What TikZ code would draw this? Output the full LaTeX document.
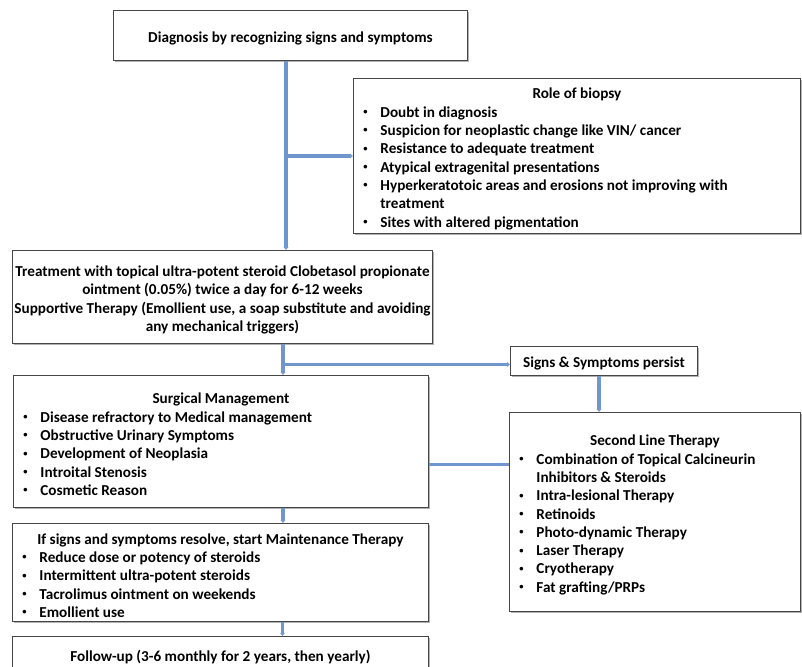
\documentclass[tikz,border=0pt]{standalone}
\usepackage{fontspec}
\setmainfont{Carlito}
\usetikzlibrary{arrows.meta,shadows,calc}
\definecolor{linkblue}{RGB}{112,150,206}
\definecolor{boxline}{RGB}{70,70,70}
\newcommand{\smallbullet}{\raisebox{2.6pt}{\fontsize{8.5}{8.5}\selectfont•}}
\newcommand{\bitem}[1]{\par\hangindent=18pt\hangafter=1\noindent\hbox to 18pt{\hspace{1pt}\smallbullet\hfil}#1}
\newcommand{\dn}[1]{\raisebox{-3pt}[\height][\depth]{#1}}
\tikzset{
  box/.style={draw=boxline, line width=0.9pt, fill=white, inner sep=0pt, anchor=north west,
    font=\fontsize{15.2}{18.3}\selectfont\bfseries,
    drop shadow={shadow xshift=1.2pt, shadow yshift=-1.5pt, opacity=0.3, fill=black}},
  conn/.style={draw=linkblue, line width=3.4pt},
  arr/.style={conn, -{Latex[length=3pt,width=5.5pt]}}
}
\begin{document}
\begin{tikzpicture}[x=1pt,y=-1pt]
\useasboundingbox (0,0) rectangle (802,666);
\clip (0,0) rectangle (802,666);
\fill[white] (0,0) rectangle (802,666);

\node[box, minimum width=354pt, minimum height=50pt] (diag) at (113,10)
  {\dn{Diagnosis by recognizing signs and symptoms}};

\node[box, minimum width=447pt, minimum height=155pt] (biop) at (353,78)
  {\dn{\parbox{429pt}{\centering Role of biopsy\par\raggedright
   \bitem{Doubt in diagnosis}
   \bitem{Suspicion for neoplastic change like VIN/ cancer}
   \bitem{Resistance to adequate treatment}
   \bitem{Atypical extragenital presentations}
   \bitem{Hyperkeratotoic areas and erosions not improving with\hfil\break treatment}
   \bitem{Sites with altered pigmentation}}}};

\node[box, minimum width=420pt, minimum height=93pt] (treat) at (12,250)
  {\dn{\parbox{420pt}{\centering Treatment with topical ultra-potent steroid Clobetasol propionate\\
   ointment (0.05\%) twice a day for 6-12 weeks\\
   Supportive Therapy (Emollient use, a soap substitute and avoiding\\
   any mechanical triggers)}}};

\node[box, minimum width=187pt, minimum height=29pt] (signs) at (510,346)
  {\dn{Signs \& Symptoms persist}};

\node[box, minimum width=415pt, minimum height=132pt] (surg) at (13,375)
  {\dn{\parbox{397pt}{\centering Surgical Management\par\raggedright
   \bitem{Disease refractory to Medical management}
   \bitem{Obstructive Urinary Symptoms}
   \bitem{Development of Neoplasia}
   \bitem{Introital Stenosis}
   \bitem{Cosmetic Reason}}}};

\node[box, minimum width=291pt, minimum height=199pt] (second) at (509,412)
  {\dn{\parbox{273pt}{\centering Second Line Therapy\par\raggedright
   \bitem{Combination of Topical Calcineurin\hfil\break Inhibitors \& Steroids}
   \bitem{Intra-lesional Therapy}
   \bitem{Retinoids}
   \bitem{Photo-dynamic Therapy}
   \bitem{Laser Therapy}
   \bitem{Cryotherapy}
   \bitem{Fat grafting/PRPs}}}};

\node[box, minimum width=416pt, minimum height=98pt] (maint) at (12,523)
  {\dn{\parbox{398pt}{\centering If signs and symptoms resolve, start Maintenance Therapy\par\raggedright
   \bitem{Reduce dose or potency of steroids}
   \bitem{Intermittent ultra-potent steroids}
   \bitem{Tacrolimus ointment on weekends}
   \bitem{Emollient use}}}};

\node[box, minimum width=416pt, minimum height=42pt] (follow) at (12,636)
  {Follow-up (3-6 monthly for 2 years, then yearly)};

\coordinate (trunk) at (286,0);
\coordinate (lowtrunk) at (283,0);
\draw[arr] (diag.south -| trunk) -- (treat.north -| trunk);
\draw[arr] (biop.west -| trunk) -- (biop.west);
\draw[arr] (treat.south -| lowtrunk) -- (surg.north -| lowtrunk);
\draw[arr] ([yshift=-3.5pt]signs.west -| lowtrunk) -- ([yshift=-3.5pt]signs.west);
\draw[arr] ([xshift=-5pt]signs.south) -- ([xshift=-5pt]signs.south |- second.north);
\draw[conn] ([yshift=-23pt]surg.east) -- ([yshift=-23pt]surg.east -| second.west);
\draw[arr] ([xshift=62pt]surg.south) -- ([xshift=62pt]surg.south |- maint.north);
\draw[arr] ([xshift=62pt]maint.south) -- ([xshift=62pt]maint.south |- follow.north);
\end{tikzpicture}
\end{document}
